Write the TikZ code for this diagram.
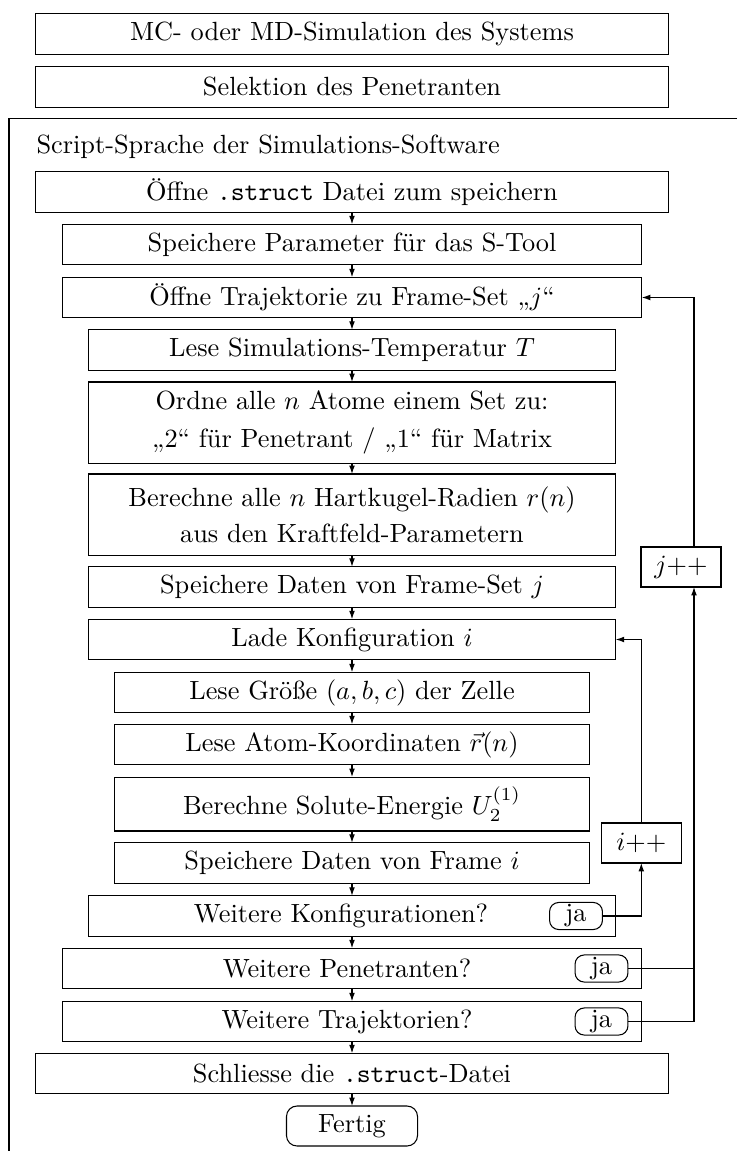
\documentclass[tikz,border=0pt]{standalone}
\usepackage{fontspec}
\usetikzlibrary{arrows.meta}

\begin{document}
\begin{tikzpicture}[x=0.38pt, y=-0.38pt,
    box/.style={draw, inner sep=0pt, outer sep=0pt, minimum height=15.4pt, align=center},
    wa/.style={minimum width=240.2pt},
    wb/.style={minimum width=220.3pt},
    wc/.style={minimum width=200.4pt},
    wd/.style={minimum width=180.5pt},
    yes/.style={draw, rounded corners=3.5pt, inner sep=0pt, outer sep=0pt, minimum width=20.1pt, minimum height=10.3pt},
    counter/.style={draw, inner sep=0pt, outer sep=0pt, minimum width=30.4pt, minimum height=15.2pt},
    flow/.style={-{Latex[length=3.2pt,width=2.2pt]}}]
    \useasboundingbox (0,0) rectangle (737,1151);

    % Vorbereitung ausserhalb der Software
    \node[box, wa] (sys) at (352,34) {MC- oder MD-Simulation des Systems};
    \node[box, wa] (sel) at (352,87) {Selektion des Penetranten};

    % Rahmen der Script-Sprache
    \draw (737,118.7) -- (9,118.7) -- (9,1151);
    \node[anchor=west, inner sep=0pt] (lang) at (36,147) {Script-Sprache der Simulations-Software};

    % Schleife ueber Frame-Sets j
    \node[box, wa] (open) at (352,192) {Öffne \texttt{.struct} Datei zum speichern};
    \node[box, wb] (param) at (352,244.5) {Speichere Parameter für das S-Tool};
    \node[box, wb] (traj) at (352,297.5) {Öffne Trajektorie zu Frame-Set „$j$“};
    \node[box, wc] (temp) at (352,350) {Lese Simulations-Temperatur $T$};
    \node[box, wc, minimum height=30.8pt] (atoms) at (352,422.5) {Ordne alle $n$ Atome einem Set zu:\\[2.2pt]„2“ für Penetrant / „1“ für Matrix};
    \node[box, wc, minimum height=30.8pt] (radii) at (352,514.5) {Berechne alle $n$ Hartkugel-Radien $r(n)$\\[1.6pt]aus den Kraftfeld-Parametern};
    \node[box, wc] (savej) at (352,587) {Speichere Daten von Frame-Set $j$};

    % Schleife ueber Konfigurationen i
    \node[box, wc] (conf) at (352,639.5) {Lade Konfiguration $i$};
    \node[box, wd] (cell) at (352,692.5) {Lese Größe $(a,b,c)$ der Zelle};
    \node[box, wd] (coord) at (352,744.5) {Lese Atom-Koordinaten $\vec{r}(n)$};
    \node[box, wd, minimum height=20.5pt] (energy) at (352,804) {Berechne Solute-Energie $U_2^{(1)}$};
    \node[box, wd] (savei) at (352,863) {Speichere Daten von Frame $i$};

    % Abfragen
    \node[box, wc] (morecfg) at (352,916) {};
    \node (morecfg-t) at (341,916) {Weitere Konfigurationen?};
    \node[yes] (jacfg) at (576,916) {ja};
    \node[box, wb] (morepen) at (352,968.5) {};
    \node (morepen-t) at (347,968.5) {Weitere Penetranten?};
    \node[yes] (japen) at (601.5,968.5) {ja};
    \node[box, wb] (moretraj) at (352,1021.5) {};
    \node (moretraj-t) at (347,1021.5) {Weitere Trajektorien?};
    \node[yes] (jatraj) at (601.5,1021.5) {ja};

    % Abschluss
    \node[box, wa] (close) at (352,1073.5) {Schliesse die \texttt{.struct}-Datei};
    \node[draw, rounded corners=4pt, inner sep=0pt, outer sep=0pt, minimum width=49.8pt, minimum height=15.2pt] (done) at (352,1126) {Fertig};

    % Zaehler
    \node[counter] (iinc) at (641.3,843) {$i$++};
    \node[counter] (jinc) at (681,567) {$j$++};
    \coordinate (jbus) at (694,0);

    % Hauptfluss
    \foreach \a/\b in {open/param, param/traj, traj/temp, temp/atoms, atoms/radii,
        radii/savej, savej/conf, conf/cell, cell/coord, coord/energy, energy/savei,
        savei/morecfg, morecfg/morepen, morepen/moretraj, moretraj/close, close/done}
        \draw[flow] (\a) -- (\b);

    % Rueckfuehrungen
    \draw[flow] (jacfg) -| (iinc);
    \draw[flow] (iinc) |- (conf);
    \draw (japen) -- (japen -| jbus);
    \draw[flow] (jatraj) -| (jinc.south -| jbus);
    \draw[flow] (jinc.north -| jbus) |- (traj);
\end{tikzpicture}
\end{document}
